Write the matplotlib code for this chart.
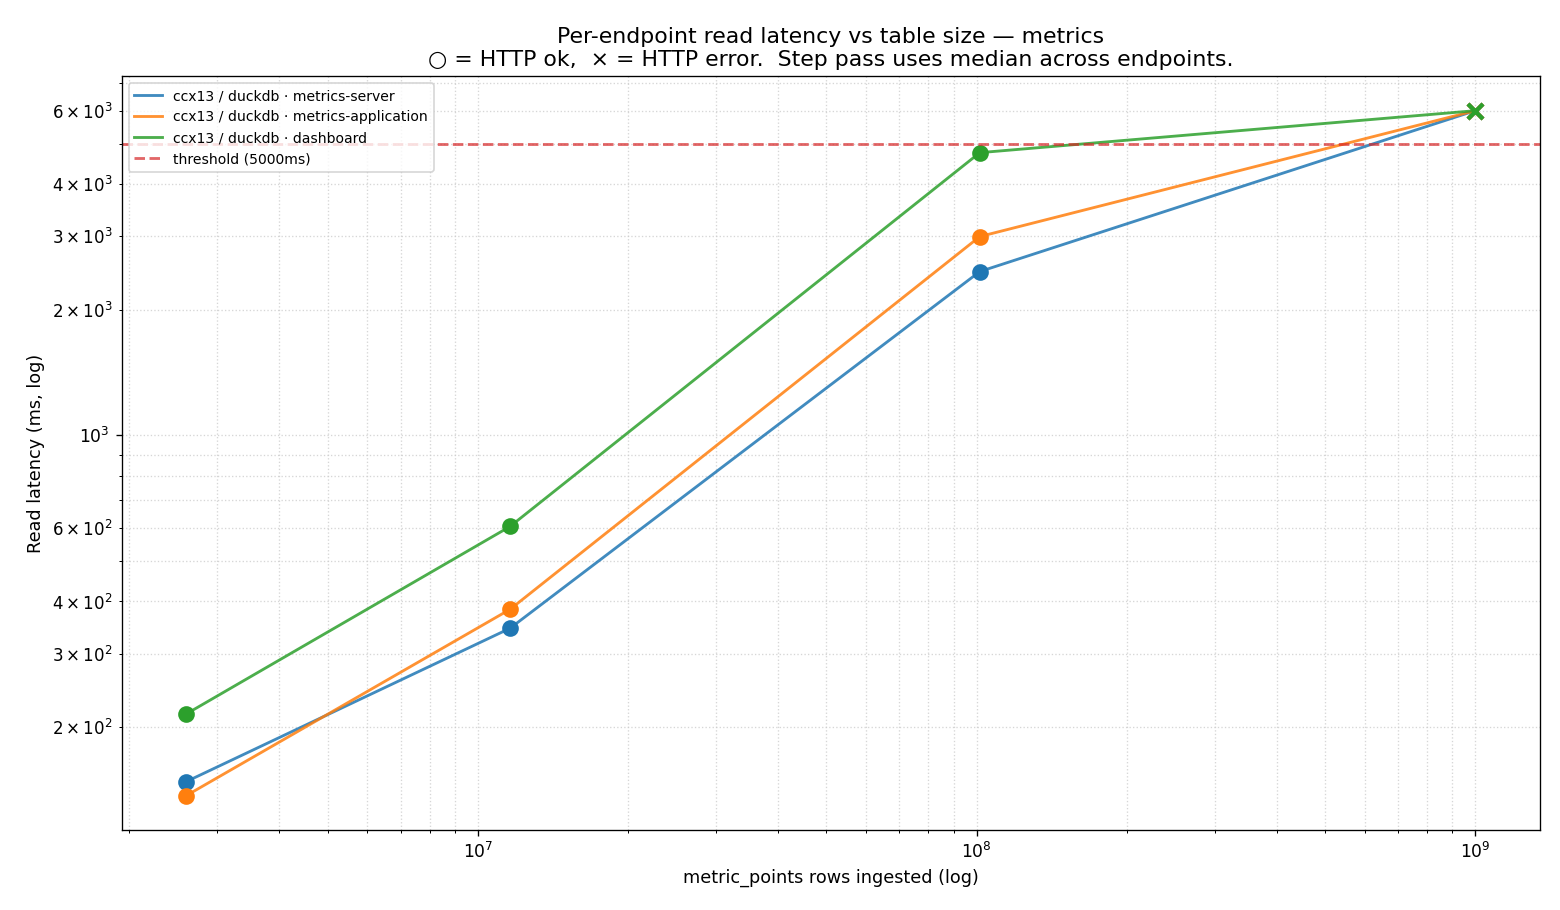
import matplotlib
matplotlib.use("Agg")
import matplotlib.pyplot as plt
from matplotlib.ticker import LogFormatterSciNotation

# rows ingested per step
rows = [2.6e6, 1.16e7, 1.015e8, 1.0e9]

endpoints = ["metrics-server", "metrics-application", "dashboard"]
latency_ms = {
    "metrics-server": [148, 345, 2470, 6000],
    "metrics-application": [137, 383, 2996, 6000],
    "dashboard": [215, 605, 4760, 6000],
}
http_ok = {
    "metrics-server": [True, True, True, False],
    "metrics-application": [True, True, True, False],
    "dashboard": [True, True, True, False],
}
colors = ["#1f77b4", "#ff7f0e", "#2ca02c"]
threshold_ms = 5000

fig, ax = plt.subplots(figsize=(13, 910 / 120), dpi=120)

for ep, c in zip(endpoints, colors):
    ys = latency_ms[ep]
    ax.plot(rows, ys, color=c, lw=1.7, alpha=0.85, label="ccx13 / duckdb · " + ep)
    okx = [x for x, ok in zip(rows, http_ok[ep]) if ok]
    oky = [y for y, ok in zip(ys, http_ok[ep]) if ok]
    errx = [x for x, ok in zip(rows, http_ok[ep]) if not ok]
    erry = [y for y, ok in zip(ys, http_ok[ep]) if not ok]
    ax.plot(okx, oky, "o", color=c, ms=9, ls="none")
    ax.plot(errx, erry, "x", color=c, ms=9, mew=2.5, ls="none")

ax.axhline(threshold_ms, color="#d62728", ls="--", lw=1.7, alpha=0.7,
           label="threshold (%dms)" % threshold_ms)

ax.set_xscale("log")
ax.set_yscale("log")
ax.yaxis.set_minor_formatter(LogFormatterSciNotation(labelOnlyBase=False,
                                                     minor_thresholds=(2, 0.4)))
ax.grid(True, which="both", ls=":", color="#cccccc", alpha=0.8)
ax.set_xlabel("metric_points rows ingested (log)", fontsize=10.6)
ax.set_ylabel("Read latency (ms, log)", fontsize=10.6)
ax.set_title("Per-endpoint read latency vs table size — metrics\n"
             "○ = HTTP ok,  × = HTTP error.  Step pass uses median across endpoints.",
             fontsize=13.2)
ax.tick_params(labelsize=10.3)
ax.legend(loc="upper left", fontsize=8.4)

fig.subplots_adjust(left=0.078, right=0.987, top=0.916, bottom=0.088)
fig.savefig("out.png")
